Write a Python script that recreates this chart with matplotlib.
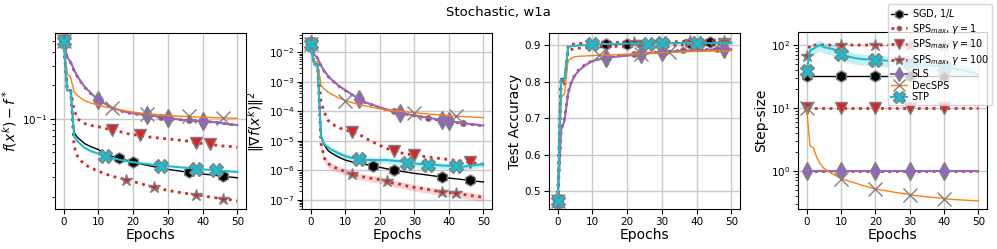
import matplotlib
matplotlib.use("Agg")
import matplotlib.pyplot as plt
from matplotlib.lines import Line2D
import numpy as np

# ---------------- data ----------------
epochs = [0, 1, 2, 3, 4, 5, 6, 8, 10, 12, 14, 16, 18, 20, 22, 24, 26, 28, 30,
          32, 34, 36, 38, 40, 42, 44, 46, 48, 50]

labels = ["SGD, $1/L$", r"SPS$_{max}$, $\gamma=1$", r"SPS$_{max}$, $\gamma=10$",
          r"SPS$_{max}$, $\gamma=100$", "SLS", "DecSPS", "STP"]

# panel 1: f(x^k) - f*
loss_sgd = [0.5, 0.18, 0.18, 0.075, 0.068, 0.064, 0.060, 0.056, 0.053, 0.049, 0.046, 0.0445, 0.0425,
            0.041, 0.0395, 0.0383, 0.0372, 0.0362, 0.0352, 0.0345, 0.0338, 0.0332, 0.0326, 0.032,
            0.0315, 0.031, 0.0305, 0.0300, 0.0296]
loss_sps1 = [0.5, 0.35, 0.32, 0.27, 0.238, 0.213, 0.193, 0.166, 0.147, 0.135, 0.125, 0.119, 0.114,
             0.111, 0.109, 0.107, 0.105, 0.103, 0.101, 0.099, 0.098, 0.097, 0.096, 0.095, 0.094,
             0.093, 0.091, 0.089, 0.088]
loss_sps10 = [0.5, 0.19, 0.18, 0.12, 0.1, 0.095, 0.091, 0.087, 0.085, 0.082, 0.079, 0.077, 0.074,
              0.072, 0.071, 0.069, 0.068, 0.067, 0.066, 0.065, 0.064, 0.063, 0.061, 0.060, 0.059,
              0.058, 0.057, 0.0565, 0.0555]
loss_sps100 = [0.5, 0.18, 0.18, 0.0566, 0.046, 0.042, 0.039, 0.036, 0.034, 0.032, 0.0305, 0.0295,
               0.0285, 0.0275, 0.0262, 0.0253, 0.0243, 0.0235, 0.0228, 0.0222, 0.0217, 0.0212,
               0.0208, 0.0204, 0.0199, 0.0195, 0.0191, 0.0188, 0.0183]
loss_sls = [0.5, 0.36, 0.325, 0.274, 0.24, 0.215, 0.195, 0.168, 0.148, 0.136, 0.126, 0.12, 0.115,
            0.112, 0.110, 0.108, 0.106, 0.104, 0.101, 0.100, 0.098, 0.097, 0.096, 0.095, 0.094,
            0.093, 0.091, 0.089, 0.088]
loss_dec = [0.5, 0.255, 0.235, 0.175, 0.162, 0.153, 0.146, 0.138, 0.133, 0.128, 0.124, 0.121, 0.118,
            0.115, 0.113, 0.111, 0.110, 0.108, 0.107, 0.106, 0.1055, 0.105, 0.104, 0.1035, 0.103,
            0.1025, 0.102, 0.1015, 0.101]
loss_stp = [0.5, 0.18, 0.18, 0.0696, 0.063, 0.0586, 0.055, 0.051, 0.0487, 0.046, 0.0445, 0.043,
            0.0418, 0.0408, 0.040, 0.0393, 0.0387, 0.0381, 0.0376, 0.0371, 0.0366, 0.0362, 0.0355,
            0.0352, 0.0349, 0.0345, 0.0341, 0.0337, 0.0334]

# panel 2: ||grad f(x^k)||^2
grad_sgd = [0.0193, 0.0039, 0.0039, 1.5e-5, 7e-6, 4.7e-6, 3.8e-6, 2.8e-6, 2.2e-6, 1.9e-6, 1.7e-6,
            1.55e-6, 1.4e-6, 1.25e-6, 1.12e-6, 1.0e-6, 9.2e-7, 8.5e-7, 7.8e-7, 7.3e-7, 6.8e-7,
            6.3e-7, 5.8e-7, 5.4e-7, 5.1e-7, 4.8e-7, 4.5e-7, 4.2e-7, 4.0e-7]
grad_sps1 = [0.0193, 0.0082, 0.0063, 0.0034, 0.0022, 0.00155, 0.00118, 7.3e-4, 5.1e-4, 3.6e-4,
             2.55e-4, 1.9e-4, 1.6e-4, 1.3e-4, 1.12e-4, 9.8e-5, 8.7e-5, 7.8e-5, 7.0e-5, 6.4e-5,
             5.8e-5, 5.3e-5, 4.9e-5, 4.5e-5, 4.2e-5, 3.9e-5, 3.6e-5, 3.4e-5, 3.2e-5]
grad_sps10 = [0.0193, 0.0039, 0.0039, 2e-4, 9e-5, 5e-5, 3.8e-5, 2.8e-5, 2.3e-5, 2.0e-5, 1.65e-5,
              1.2e-5, 9e-6, 7e-6, 5.5e-6, 4.4e-6, 3.9e-6, 3.5e-6, 3.2e-6, 3.0e-6, 2.8e-6, 2.6e-6,
              2.45e-6, 2.3e-6, 2.15e-6, 2.0e-6, 1.85e-6, 1.7e-6, 1.6e-6]
grad_sps100 = [0.0193, 0.0039, 0.0039, 8e-6, 2.5e-6, 1.7e-6, 1.4e-6, 1.1e-6, 9e-7, 7.2e-7, 6.3e-7,
               5.7e-7, 5.2e-7, 4.8e-7, 4.3e-7, 3.6e-7, 3.3e-7, 2.9e-7, 2.6e-7, 2.4e-7, 2.2e-7,
               2.0e-7, 1.85e-7, 1.75e-7, 1.65e-7, 1.5e-7, 1.4e-7, 1.3e-7, 1.2e-7]
grad_sls = [0.0193, 0.0084, 0.0065, 0.0035, 0.0023, 0.0016, 0.0012, 7.5e-4, 5.2e-4, 3.7e-4, 2.6e-4,
            1.95e-4, 1.65e-4, 1.35e-4, 1.15e-4, 9.8e-5, 8.7e-5, 7.9e-5, 7.2e-5, 6.6e-5, 6.0e-5,
            5.5e-5, 5.1e-5, 4.7e-5, 4.3e-5, 4.0e-5, 3.7e-5, 3.5e-5, 3.3e-5]
grad_dec = [0.0193, 0.005, 0.0047, 7.5e-4, 5.5e-4, 4.5e-4, 3.8e-4, 2.9e-4, 2.3e-4, 1.95e-4, 1.7e-4,
            1.5e-4, 1.35e-4, 1.2e-4, 1.12e-4, 1.05e-4, 9.9e-5, 9.4e-5, 9.0e-5, 8.5e-5, 8.1e-5,
            7.7e-5, 7.4e-5, 7.1e-5, 6.8e-5, 6.6e-5, 6.4e-5, 6.2e-5, 6.1e-5]
grad_stp = [0.0193, 0.0039, 0.0039, 1.3e-5, 7.5e-6, 6e-6, 5e-6, 3.8e-6, 3.0e-6, 2.6e-6, 2.4e-6,
            2.25e-6, 2.2e-6, 2.2e-6, 2.2e-6, 2.1e-6, 2.0e-6, 1.8e-6, 1.7e-6, 1.6e-6, 1.5e-6, 1.5e-6,
            1.45e-6, 1.4e-6, 1.35e-6, 1.3e-6, 1.4e-6, 1.5e-6, 1.6e-6]

# panel 3: test accuracy
acc_sgd = [0.473, 0.809, 0.809, 0.895, 0.898, 0.899, 0.900, 0.901, 0.902, 0.903, 0.903, 0.904, 0.904,
           0.905, 0.905, 0.905, 0.906, 0.906, 0.906, 0.906, 0.907, 0.907, 0.907, 0.907, 0.907, 0.908,
           0.908, 0.908, 0.908]
acc_sps1 = [0.473, 0.67, 0.70, 0.77, 0.802, 0.82, 0.832, 0.848, 0.858, 0.863, 0.867, 0.869, 0.871,
            0.873, 0.875, 0.877, 0.879, 0.881, 0.882, 0.884, 0.885, 0.886, 0.887, 0.888, 0.888, 0.889,
            0.889, 0.890, 0.890]
acc_sps10 = [0.473, 0.81, 0.80, 0.885, 0.889, 0.891, 0.892, 0.894, 0.895, 0.896, 0.897, 0.897, 0.898,
             0.898, 0.899, 0.899, 0.900, 0.900, 0.900, 0.901, 0.901, 0.901, 0.902, 0.902, 0.902,
             0.902, 0.903, 0.903, 0.903]
acc_sps100 = [0.473, 0.812, 0.790, 0.900, 0.903, 0.904, 0.905, 0.906, 0.907, 0.907, 0.908, 0.908,
              0.908, 0.909, 0.909, 0.909, 0.909, 0.910, 0.910, 0.910, 0.910, 0.911, 0.911, 0.911,
              0.911, 0.912, 0.912, 0.912, 0.912]
acc_sls = [0.473, 0.667, 0.695, 0.768, 0.800, 0.818, 0.830, 0.846, 0.857, 0.862, 0.866, 0.868, 0.870,
           0.872, 0.874, 0.876, 0.878, 0.880, 0.882, 0.883, 0.884, 0.885, 0.886, 0.887, 0.887, 0.888,
           0.888, 0.889, 0.889]
acc_dec = [0.473, 0.757, 0.768, 0.858, 0.865, 0.869, 0.870, 0.871, 0.872, 0.873, 0.873, 0.874, 0.875,
           0.876, 0.877, 0.877, 0.878, 0.879, 0.880, 0.881, 0.881, 0.882, 0.883, 0.883, 0.884, 0.884,
           0.885, 0.885, 0.885]
acc_stp = [0.473, 0.806, 0.806, 0.895, 0.898, 0.899, 0.900, 0.901, 0.903, 0.904, 0.904, 0.904, 0.904,
           0.905, 0.905, 0.905, 0.905, 0.905, 0.906, 0.906, 0.906, 0.906, 0.906, 0.906, 0.906, 0.906,
           0.906, 0.906, 0.906]

# panel 4: step-size
step_sgd = [31.6] * len(epochs)
step_sps1 = [1.0] * len(epochs)
step_sps10 = [10.0] * len(epochs)
step_sps100 = [68.0] + [100.0] * (len(epochs) - 1)
step_sls = [1.0] * len(epochs)
step_dec = [10.0, 2.5, 2.3, 1.6, 1.28, 1.1, 1.0, 0.86, 0.75, 0.69, 0.64, 0.59, 0.55, 0.51, 0.49,
            0.47, 0.45, 0.435, 0.415, 0.40, 0.39, 0.38, 0.37, 0.36, 0.35, 0.345, 0.34, 0.335, 0.33]
step_stp = [38, 82, 87, 95, 100, 93, 90, 85, 72, 66, 62, 60, 59, 58, 57, 56, 55, 53, 51, 50, 49,
            47, 46, 44, 43, 41, 39, 37, 34]

# relative spread of the shaded bands
grad_sps100_spread = 0.25
grad_stp_spread = 0.22
step_stp_spread = 0.2

# ---------------- styles ----------------
colors = ["black", "tab:red", "tab:red", "tab:red", "tab:purple", "tab:orange", "tab:cyan"]
markers = ["h", "o", "v", "*", "d", "x", "X"]
msizes = [8, 4, 9, 9, 9, 10, 10]
lstyles = ["-", ":", ":", ":", "-", "-", "-"]
lwidths = [1.0, 2.0, 2.0, 2.0, 1.5, 1.0, 1.5]

mark_ep = {
    0: [[0, 16, 20, 36, 46], [0, 28, 36], [0, 14, 22, 38, 42], [0, 18, 26, 38, 46],
        [0, 10, 24, 30, 40], [0, 14, 24, 36, 46], [0, 12, 28, 38, 44]],
    1: [[0, 18, 24, 38, 46], [0, 24, 34, 44], [0, 12, 24, 30, 46], [0, 12, 22, 38, 42],
        [0, 14, 26, 38, 40], [0, 10, 30, 42], [0, 14, 28, 34, 42]],
    2: [[0, 14, 20, 38, 44], [0, 22, 36, 46], [0, 24, 40, 48], [0, 22, 38, 48],
        [0, 14, 24, 30, 48], [0, 12, 24, 32], [0, 10, 26, 30, 40]],
    3: [[0, 10, 20, 30, 40]] * 7,
}

panels = [
    [loss_sgd, loss_sps1, loss_sps10, loss_sps100, loss_sls, loss_dec, loss_stp],
    [grad_sgd, grad_sps1, grad_sps10, grad_sps100, grad_sls, grad_dec, grad_stp],
    [acc_sgd, acc_sps1, acc_sps10, acc_sps100, acc_sls, acc_dec, acc_stp],
    [step_sgd, step_sps1, step_sps10, step_sps100, step_sls, step_dec, step_stp],
]
ylabels = [r"$f(x^k) - f^*$", r"$\|\nabla f(x^k)\|^2$", "Test Accuracy", "Step-size"]
logy = [True, True, False, True]

W, H = 997, 249
fig = plt.figure(figsize=(W / 100, H / 100), dpi=100)
boxes = [(55, 246, 33, 209), (302, 492, 33, 209), (549, 740, 33, 209), (798, 987, 32, 209)]

x = np.array(epochs)
axes = []
for p, (l, r, t, b) in enumerate(boxes):
    ax = fig.add_axes([l / W, (H - b) / H, (r - l) / W, (b - t) / H])
    axes.append(ax)
    ax.grid(True, color="#c8c8c8", linewidth=1.0)
    ax.set_axisbelow(True)
    # shaded bands
    if p == 1:
        y = np.array(grad_sps100)
        ax.fill_between(x, y * (1 - grad_sps100_spread), y * (1 + grad_sps100_spread),
                        color="tab:red", alpha=0.2, linewidth=0)
        y = np.array(grad_stp)
        ax.fill_between(x, y * (1 - grad_stp_spread), y * (1 + grad_stp_spread),
                        color="tab:cyan", alpha=0.25, linewidth=0)
    if p == 3:
        y = np.array(step_stp)
        ax.fill_between(x, y * (1 - step_stp_spread), y * (1 + step_stp_spread),
                        color="tab:cyan", alpha=0.25, linewidth=0)
    for i, ys in enumerate(panels[p]):
        idx = [epochs.index(e) for e in mark_ep[p][i]]
        ax.plot(x, ys, color=colors[i], linestyle=lstyles[i], linewidth=lwidths[i],
                marker=markers[i], markersize=msizes[i], markevery=idx,
                markerfacecolor=colors[i] if markers[i] != "x" else "gray",
                markeredgecolor="gray", markeredgewidth=1.0, zorder=2 + i * 0.1)
    if logy[p]:
        ax.set_yscale("log")
    ax.set_xticks([0, 10, 20, 30, 40, 50])
    ax.set_xlabel("Epochs", fontsize=10, labelpad=1)
    ax.set_ylabel(ylabels[p], fontsize=10, labelpad=2)
    ax.tick_params(labelsize=7.5, pad=2)

handles = [Line2D([], [], color=colors[i], linestyle=lstyles[i], linewidth=lwidths[i],
                  marker=markers[i], markersize=msizes[i],
                  markerfacecolor=colors[i] if markers[i] != "x" else "gray",
                  markeredgecolor="gray", markeredgewidth=1.0) for i in range(7)]
axes[3].legend(handles, labels, loc="upper right", bbox_to_anchor=(1.026, 1.158),
               fontsize=7, labelspacing=0.18, handlelength=1.6, borderpad=0.3,
               handletextpad=0.5, borderaxespad=0, framealpha=0.8, markerscale=0.8)

fig.text(0.5, 0.95, "Stochastic, w1a", ha="center", va="center", fontsize=9.5)
fig.savefig("out.png", dpi=100)
